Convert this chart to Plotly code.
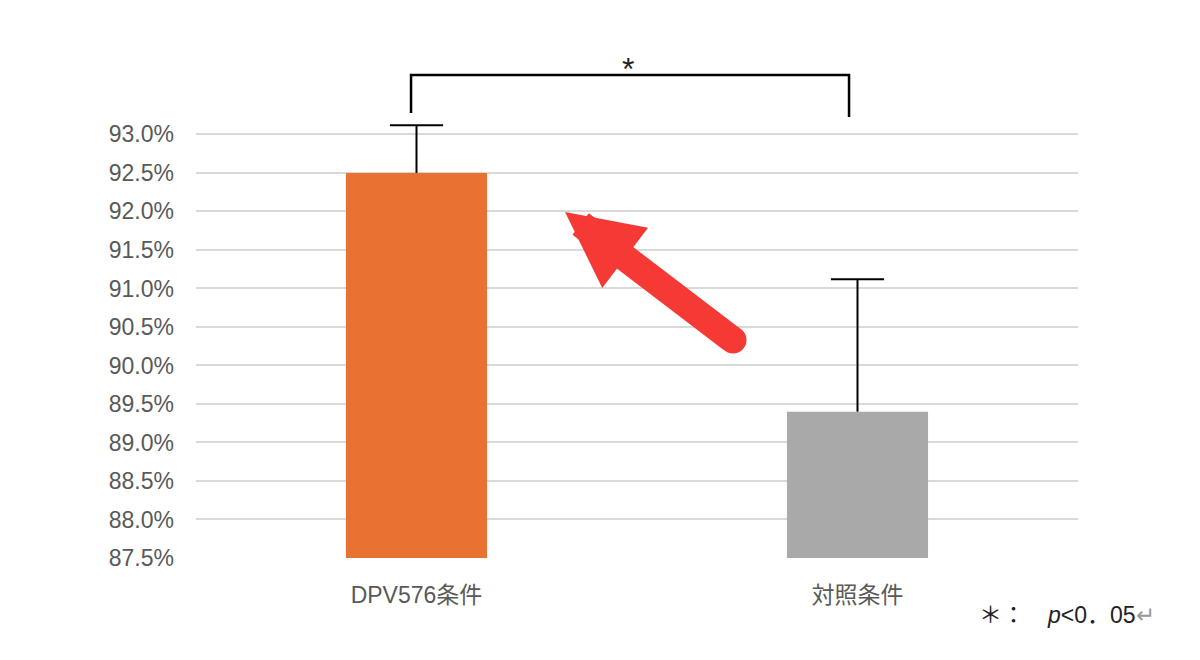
import plotly.graph_objects as go

# data
categories = ["DPV576条件", "対照条件"]
means = [0.925, 0.894]
err_plus = [0.0062, 0.0172]
bar_colors = ["#E97132", "#A9A9A9"]
y_ticks = [0.875 + 0.005 * i for i in range(12)]

FONT = "Liberation Sans, Noto Sans CJK JP, sans-serif"
GRAY_TXT = "#595959"

fig = go.Figure()
fig.add_trace(
    go.Bar(
        x=categories,
        y=means,
        marker=dict(color=bar_colors, line=dict(width=0)),
        # only the stem here, the cap is drawn by the marker trace below
        error_y=dict(
            type="data",
            symmetric=False,
            array=err_plus,
            arrayminus=[0, 0],
            color="black",
            thickness=2,
            width=0,
        ),
        showlegend=False,
    )
)
fig.add_trace(
    go.Scatter(
        x=categories,
        y=[m + e for m, e in zip(means, err_plus)],
        mode="markers",
        marker=dict(symbol="line-ew-open", size=38, color="black",
                    line=dict(color="black", width=2)),
        showlegend=False,
        hoverinfo="skip",
    )
)

fig.update_layout(
    width=1200,
    height=660,
    paper_bgcolor="white",
    plot_bgcolor="white",
    margin=dict(l=188, r=130, t=111, b=110),
    bargap=0.68,
    font=dict(family=FONT, size=23, color=GRAY_TXT),
    xaxis=dict(
        showgrid=False,
        showline=False,
        zeroline=False,
        ticks="",
        ticklabelstandoff=21,
        tickfont=dict(size=23, color=GRAY_TXT),
    ),
    yaxis=dict(
        range=[0.875, 0.932],
        tickvals=y_ticks,
        tickformat=".1%",
        showgrid=True,
        gridcolor="#D9D9D9",
        gridwidth=2,
        zeroline=False,
        showline=False,
        ticks="",
        ticklabelstandoff=21,
        tickfont=dict(size=23, color=GRAY_TXT),
    ),
)

# significance bracket
bracket = "M 0.2438 1.0137 L 0.2438 1.100 L 0.7404 1.100 L 0.7404 1.0046"
fig.add_shape(
    type="path", path=bracket, xref="paper", yref="paper",
    line=dict(color="black", width=2.5),
)
fig.add_annotation(
    x=0.4898, y=1.115, xref="paper", yref="paper", text="*",
    xanchor="center", yanchor="middle",
    showarrow=False, font=dict(size=32, color="#222222"),
)

# red arrow pointing at the DPV576 bar
fig.add_annotation(
    x=0.4184, y=0.788, xref="paper", yref="paper", text="",
    showarrow=True, ax=168, ay=128, arrowhead=2, arrowsize=0.56,
    arrowwidth=27, arrowcolor="#F53A36",
)
# rounded tail of the arrow
fig.add_shape(
    type="circle", xref="paper", yref="paper",
    xsizemode="pixel", ysizemode="pixel",
    xanchor=0.4184 + 168 / 882, yanchor=0.788 - 128 / 439,
    x0=-13.5, x1=13.5, y0=-13.5, y1=13.5,
    fillcolor="#F53A36", line=dict(width=0),
)

# footnote
fig.add_annotation(
    x=0.987, y=-0.13, xref="paper", yref="paper",
    xanchor="center", yanchor="middle",
    text="＊：　<i>p</i>&lt;0．05<span style='color:#999999'>↵</span>",
    showarrow=False, font=dict(size=23, color="#222222"),
)

fig.write_html("out.html")
